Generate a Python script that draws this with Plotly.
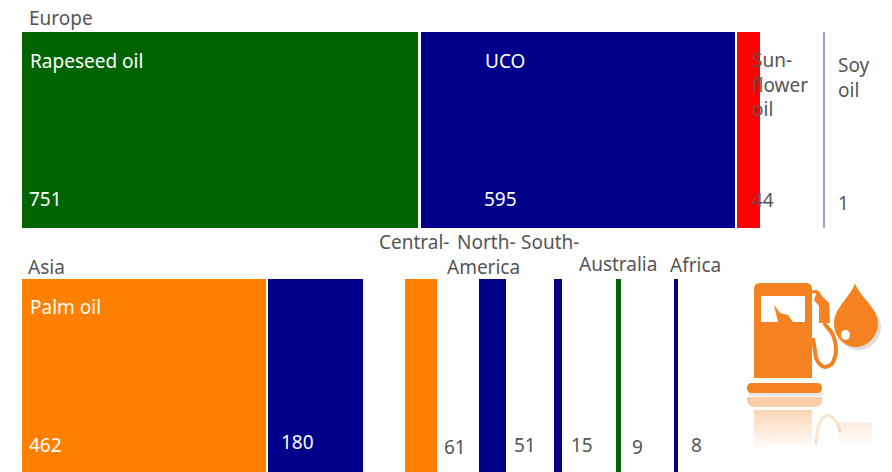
import re
import plotly.graph_objects as go

# ---- data ----
europe_names = ["Rapeseed oil", "UCO", "Sunflower oil", "Soy oil"]
europe_values = [751, 595, 44, 1]
europe_colors = ["#006400", "#00008b", "#ff0000", "#9aa3cc"]
asia_names = ["Palm oil", "Asia UCO", "Central America", "North America", "South America", "Australia", "Africa"]
asia_values = [462, 180, 61, 51, 15, 9, 8]
asia_colors = ["#ff7f00", "#00008b", "#ff7f00", "#00008b", "#00008b", "#006400", "#00008b"]

# ---- layout helpers ----
W, H = 892, 472
PX_PER_UNIT = 0.5275
europe_gaps_px = [22, 2.5, 2, 64]
asia_gaps_px = [22, 2.5, 42, 42, 48, 54, 53]
TEXT = "#555555"
FONT = "Noto Sans, Open Sans, sans-serif"
TEXT_DX = -2


def layout(values, gaps):
    centers, pos = [], 0
    for v, g in zip(values, gaps):
        pos += g / PX_PER_UNIT
        centers.append(pos + v / 2)
        pos += v
    return centers


fig = go.Figure()
for row, (names, vals, cols, gaps) in enumerate([
    (europe_names, europe_values, europe_colors, europe_gaps_px),
    (asia_names, asia_values, asia_colors, asia_gaps_px),
]):
    fig.add_trace(go.Bar(
        x=layout(vals, gaps), y=[1] * len(vals), width=vals, text=names,
        marker=dict(color=cols, line_width=0), textposition="none",
        yaxis="y" if row == 0 else "y2", showlegend=False, hoverinfo="text",
    ))

fig.update_layout(
    width=W, height=H, margin=dict(l=0, r=0, t=0, b=0),
    paper_bgcolor="white", plot_bgcolor="white", bargap=0,
    xaxis=dict(range=[0, W / PX_PER_UNIT], visible=False),
    yaxis=dict(range=[0, 1], visible=False, domain=[1 - 228 / H, 1 - 32 / H]),
    yaxis2=dict(range=[0, 1], visible=False, domain=[0, 1 - 279 / H]),
)

labels = [
    ("Europe", 29, 18, TEXT), ("Asia", 28, 267, TEXT),
    ("Rapeseed oil", 30, 61, "white"), ("751", 29, 199, "white"),
    ("UCO", 485, 61, "white"), ("595", 484, 199, "white"),
    ("Sun-<br>flower<br>oil", 752, 85, TEXT), ("44", 752, 200, TEXT),
    ("Soy<br>oil", 838, 77, TEXT), ("1", 838, 203, TEXT),
    ("Palm oil", 30, 307, "white"), ("462", 29, 445, "white"),
    ("180", 281, 442, "white"),
    ("Central-", 379, 242, TEXT), ("North-", 457, 242, TEXT), ("South-", 521, 242, TEXT),
    ("America", 447, 267, TEXT), ("Australia", 579, 264, TEXT), ("Africa", 670, 265, TEXT),
    ("61", 444, 447, TEXT), ("51", 514, 445, TEXT), ("15", 571, 445, TEXT),
    ("9", 632, 447, TEXT), ("8", 691, 445, TEXT),
]
for txt, x, y, col in labels:
    fig.add_annotation(
        text=txt, x=(x + TEXT_DX) / W, y=1 - y / H, xref="paper", yref="paper",
        xanchor="left", yanchor="middle", align="left", showarrow=False,
        font=dict(family=FONT, size=19, color=col),
    )


# ---- fuel pump icon, drawn in pixel coordinates ----
def path(d):
    toks = re.findall(r"[A-Za-z]|-?[\d.]+", d)
    out, is_x = [], True
    for t in toks:
        if t.isalpha():
            out.append(t)
            is_x = True
        else:
            v = float(t)
            out.append(f"{v / W:.5f}" if is_x else f"{1 - v / H:.5f}")
            is_x = not is_x
    return " ".join(out)


def blob(d, fill, opacity=1.0):
    fig.add_shape(type="path", path=path(d), xref="paper", yref="paper",
                  fillcolor=fill, opacity=opacity, line_width=0)


def stroke(d, color, width, opacity=1.0):
    fig.add_shape(type="path", path=path(d), xref="paper", yref="paper",
                  line=dict(color=color, width=width), opacity=opacity)


OR = "#f58220"
drop = "M855 283 C858 295 878 308 878 323 C878 337 867 347 856 347 C844 347 834 337 834 323 C834 308 852 295 855 283 Z"
pump = "M760 283 L806 283 Q812 283 812 289 L812 378 L754 378 L754 289 Q754 283 760 283 Z"
nozzle = "M817 291 L829 303 L830 323 L819 323 L819 306 L814 300 Z"
hose = "M813 338 L816 358 Q822 372 832 364 Q840 350 832 333 L824 323"

# soft shadow
blob("M749 391 L822 391 Q825 393 822 396 L749 396 Z", "#888888", 0.2)
blob("M858 289 C861 300 881 311 881 326 C881 340 870 350 859 350 C847 350 837 340 837 326 C837 311 855 300 858 289 Z", "#888888", 0.28)

blob(pump, OR)
blob("M761 296 L805 296 L805 322 L793 322 L788 315 L780 313 L774 305 L778 322 L761 322 Z", "white")
blob(nozzle, OR)
stroke(hose, OR, 4)
stroke("M812 292 Q818 290 820 296", OR, 3)
blob(drop, OR)
fig.add_shape(type="circle", x0=841 / W, x1=850 / W, y0=1 - 340 / H, y1=1 - 330 / H,
              xref="paper", yref="paper", fillcolor="white", line_width=0)
blob("M752 383 L817 383 Q822 383 822 388 Q822 393 817 393 L752 393 Q747 393 747 388 Q747 383 752 383 Z", OR)

# reflection: fading bands
blob("M747 397 L822 397 L822 402 Q820 407 815 407 L755 407 Q749 407 747 402 Z", OR, 0.38)
for i in range(10):
    y0 = 410 + i * 3.6
    blob(f"M754 {y0} L812 {y0} L812 {y0 + 3.6} L754 {y0 + 3.6} Z", OR, 0.32 - i * 0.03)
stroke("M816 445 Q818 412 830 416 Q838 420 840 432", OR, 3, 0.22)
for i in range(5):
    y0 = 422 + i * 4
    blob(f"M838 {y0} L872 {y0} L872 {y0 + 4} L838 {y0 + 4} Z", OR, 0.13 - i * 0.022)

fig.write_html("out.html", config={"displayModeBar": False},
               post_script="document.body.style.margin='0';")
